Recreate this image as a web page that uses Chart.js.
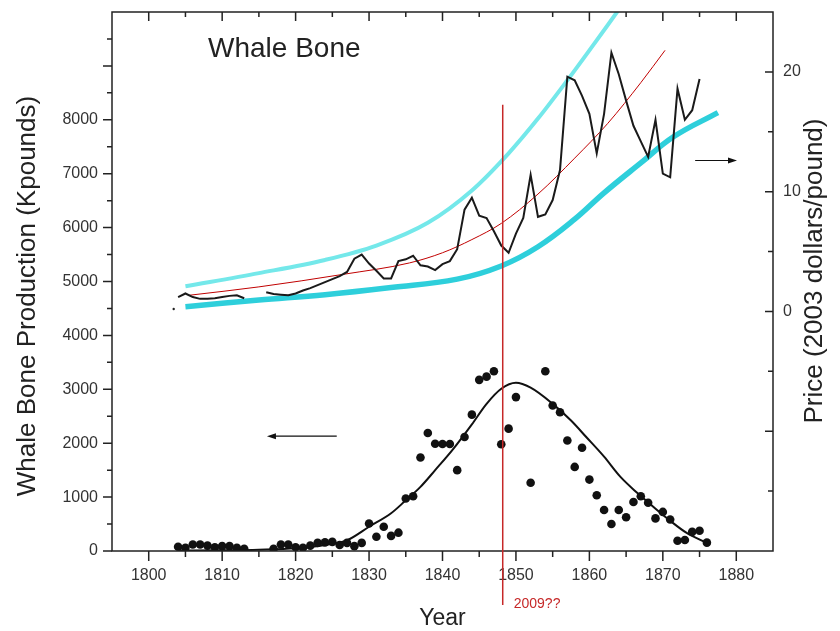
<!DOCTYPE html>
<html>
<head>
<meta charset="utf-8">
<script src="https://cdn.jsdelivr.net/npm/chart.js@4.4.1/dist/chart.umd.min.js"></script>
<style>
  html, body { margin: 0; padding: 0; background: #fff; }
</style>
</head>
<body>
<canvas id="whaleChart" width="840" height="631"></canvas>
<script>
// whale bone production (Kpounds), one dot per year
const prodYears = [1804, 1805, 1806, 1807, 1808, 1809, 1810, 1811, 1812, 1813,
  1817, 1818, 1819, 1820, 1821, 1822, 1823, 1824, 1825, 1826, 1827, 1828, 1829,
  1830, 1831, 1832, 1833, 1834, 1835, 1836, 1837, 1838, 1839, 1840, 1841, 1842,
  1843, 1844, 1845, 1846, 1847, 1848, 1849, 1850, 1852, 1854, 1855, 1856, 1857,
  1858, 1859, 1860, 1861, 1862, 1863, 1864, 1865, 1866, 1867, 1868, 1869, 1870,
  1871, 1872, 1873, 1874, 1875, 1876];
const prodValues = [80, 60, 120, 120, 100, 70, 90, 90, 60, 40,
  40, 120, 120, 70, 60, 100, 150, 160, 170, 110, 150, 90, 150,
  510, 265, 450, 280, 340, 975, 1015, 1735, 2190, 1990, 1985, 1985, 1500,
  2115, 2530, 3175, 3235, 3335, 1980, 2270, 2855, 1265, 3335, 2700, 2575, 2050,
  1560, 1915, 1325, 1035, 760, 500, 760, 625, 910, 1015, 895, 605, 725,
  585, 190, 205, 355, 375, 155];

// fitted production curve
const fitYears = [1804, 1810, 1815, 1820, 1824, 1827, 1830, 1833, 1835, 1837, 1839,
  1841.5, 1844, 1846, 1848, 1850, 1852, 1855, 1857.5, 1859.6, 1862, 1864.2,
  1866.5, 1868.7, 1871, 1873.3, 1876];
const fitValues = [10, 15, 25, 50, 110, 200, 450, 700, 940, 1190, 1500,
  1900, 2350, 2730, 3010, 3120, 3030, 2730, 2420, 2110, 1750, 1380,
  1080, 820, 560, 330, 150];

// price (2003 dollars/pound), two runs with a gap
const priceYearsA = [1804, 1805, 1806, 1807, 1808, 1809, 1810, 1811, 1812, 1813];
const priceA = [1.2, 1.5, 1.2, 1.05, 1.05, 1.1, 1.2, 1.3, 1.35, 1.1];
const priceYearsB = [1816, 1817, 1818, 1819, 1820, 1821, 1822, 1823, 1824, 1825,
  1826, 1827, 1828, 1829, 1830, 1831, 1832, 1833, 1834, 1835, 1836, 1837, 1838,
  1839, 1840, 1841, 1842, 1843, 1844, 1845, 1846, 1847, 1848, 1849, 1850, 1851,
  1852, 1853, 1854, 1855, 1856, 1857, 1858, 1859, 1860, 1861, 1862, 1863, 1864,
  1865, 1866, 1867, 1868, 1869, 1870, 1871, 1872, 1873, 1874, 1875];
const priceB = [1.6, 1.45, 1.4, 1.35, 1.5, 1.75, 1.95, 2.2, 2.45, 2.7,
  2.95, 3.3, 4.4, 4.75, 4.0, 3.4, 2.75, 2.75, 4.2, 4.35, 4.65, 3.85, 3.75,
  3.45, 3.95, 4.2, 5.2, 8.5, 9.5, 8.0, 7.8, 6.7, 5.5, 4.9, 6.5, 7.8,
  11.4, 7.9, 8.1, 9.3, 11.8, 19.6, 19.3, 18.0, 16.5, 13.2, 16.5, 21.6, 19.8,
  17.6, 15.5, 14.2, 12.9, 16.0, 11.5, 11.2, 18.6, 16.0, 16.8, 19.4];
// stray dot left of the first price run
const strayYears = [1803.4];
const strayPrice = [0.2];

// price trend band and trend
const upperYears = [1805, 1815, 1824, 1831, 1838, 1844, 1849, 1853, 1857, 1860, 1864, 1866];
const upperValues = [2.1, 3.2, 4.3, 5.5, 7.4, 10.1, 13.2, 16.1, 19.3, 21.8, 25.2, 27.0];
const lowerYears = [1805, 1815, 1824, 1833, 1842, 1848, 1853, 1858, 1862, 1867, 1871.5, 1877.5];
const lowerValues = [0.4, 0.95, 1.4, 2.0, 2.7, 3.8, 5.4, 7.7, 9.9, 12.4, 14.6, 16.6];
const trendYears = [1805.5, 1815, 1826.5, 1835.5, 1840, 1844, 1848, 1853, 1858, 1862.5, 1867, 1870.3];
const trendValues = [1.35, 2.05, 3.1, 4.05, 4.9, 6.0, 7.35, 9.8, 12.8, 15.7, 19.1, 21.8];

const yearTicks = [1800, 1810, 1820, 1830, 1840, 1850, 1860, 1870, 1880];
const prodTicks = [0, 1000, 2000, 3000, 4000, 5000, 6000, 7000, 8000];
const priceTicks = [0, 10, 20];

// marker and arrows, in data units
const markerYear = 1848.2;
const markerTopPrice = 17.25;
const leftArrow = { from: 1825.6, to: 1816.1, value: 2130 };
const rightArrow = { from: 1874.4, to: 1880.1, value: 12.6 };

const FONT = "'Liberation Sans', Arial, sans-serif";
const pts = (xs, ys) => xs.map((x, i) => ({ x: x, y: ys[i] }));

function drawArrow(ctx, x1, y, x2) {
    const dir = x2 > x1 ? 1 : -1;
    ctx.beginPath();
    ctx.moveTo(x1, y);
    ctx.lineTo(x2 - dir * 6, y);
    ctx.stroke();
    ctx.beginPath();
    ctx.moveTo(x2, y);
    ctx.lineTo(x2 - dir * 9, y - 3);
    ctx.lineTo(x2 - dir * 9, y + 3);
    ctx.closePath();
    ctx.fill();
}

// fixed axis box sizes so the plot frame lands where it does in the picture
function fixBox(size) {
    return s => {
        if (s.isHorizontal()) s.height = size; else s.width = size;
        s.paddingTop = 0;
        s.paddingBottom = 0;
    };
}

const decor = {
    id: 'decor',
    afterDraw(chart) {
        const ctx = chart.ctx;
        const a = chart.chartArea;
        const sx = chart.scales.x, sy = chart.scales.y, sp = chart.scales.y2;
        ctx.save();

        // frame
        ctx.strokeStyle = '#222';
        ctx.lineWidth = 1.5;
        ctx.strokeRect(a.left, a.top, a.right - a.left, a.bottom - a.top);

        // ticks
        ctx.beginPath();
        for (let yr = 1800; yr < 1885; yr += 5) {
            const px = sx.getPixelForValue(yr);
            const major = yr % 10 === 0;
            ctx.moveTo(px, a.bottom);
            ctx.lineTo(px, a.bottom + (major ? 10 : 6));
            ctx.moveTo(px, a.top);
            ctx.lineTo(px, a.top + (major ? 9 : 5));
        }
        for (let v = 500; v <= 9500; v += 500) {
            const py = sy.getPixelForValue(v);
            ctx.moveTo(a.left, py);
            ctx.lineTo(a.left - (v % 1000 === 0 ? 9 : 5), py);
        }
        ctx.moveTo(a.left, a.bottom);
        ctx.lineTo(a.left - 9, a.bottom);
        for (let v = -15; v <= 20; v += 5) {
            const py = sp.getPixelForValue(v);
            ctx.moveTo(a.right, py);
            ctx.lineTo(a.right - (v % 10 === 0 ? 8 : 5), py);
        }
        ctx.stroke();

        // red year marker
        const mx = sx.getPixelForValue(markerYear);
        ctx.strokeStyle = '#c62828';
        ctx.lineWidth = 1.5;
        ctx.beginPath();
        ctx.moveTo(mx, sp.getPixelForValue(markerTopPrice));
        ctx.lineTo(mx, a.bottom + 54);
        ctx.stroke();
        ctx.fillStyle = '#c62828';
        ctx.font = '14px ' + FONT;
        ctx.textAlign = 'left';
        ctx.textBaseline = 'alphabetic';
        ctx.fillText('2009??', mx + 11, a.bottom + 57);

        // arrows
        ctx.strokeStyle = '#111';
        ctx.fillStyle = '#111';
        ctx.lineWidth = 1.2;
        drawArrow(ctx, sx.getPixelForValue(leftArrow.from), sy.getPixelForValue(leftArrow.value),
            sx.getPixelForValue(leftArrow.to));
        drawArrow(ctx, sx.getPixelForValue(rightArrow.from), sp.getPixelForValue(rightArrow.value),
            sx.getPixelForValue(rightArrow.to));

        // texts
        ctx.fillStyle = '#222';
        ctx.font = '28px ' + FONT;
        ctx.textAlign = 'left';
        ctx.fillText('Whale Bone', a.left + 96, 57);

        ctx.font = '23px ' + FONT;
        ctx.textAlign = 'center';
        ctx.textBaseline = 'middle';
        ctx.fillText('Year', (a.left + a.right) / 2, 619);

        ctx.save();
        ctx.translate(28, 296);
        ctx.rotate(-Math.PI / 2);
        ctx.font = '26px ' + FONT;
        ctx.fillText('Whale Bone Production (Kpounds)', 0, 0);
        ctx.restore();

        ctx.save();
        ctx.translate(815, 271);
        ctx.rotate(-Math.PI / 2);
        ctx.font = '26px ' + FONT;
        ctx.fillText('Price (2003 dollars/pound)', 0, 0);
        ctx.restore();

        ctx.restore();
    }
};

const ctx = document.getElementById('whaleChart').getContext('2d');
window.whaleChart = new Chart(ctx, {
    type: 'scatter',
    data: {
        datasets: [{
            label: 'Production',
            data: pts(prodYears, prodValues),
            yAxisID: 'y',
            backgroundColor: '#111',
            borderColor: '#111',
            pointRadius: 4.3,
            pointBorderWidth: 0
        }, {
            label: 'Production fit',
            data: pts(fitYears, fitValues),
            yAxisID: 'y',
            showLine: true,
            borderColor: '#111',
            borderWidth: 2,
            pointRadius: 0,
            cubicInterpolationMode: 'monotone'
        }, {
            label: 'Price',
            data: pts(priceYearsA, priceA),
            yAxisID: 'y2',
            showLine: true,
            borderColor: '#1a1a1a',
            borderWidth: 2,
            pointRadius: 0
        }, {
            label: 'Price 2',
            data: pts(priceYearsB, priceB),
            yAxisID: 'y2',
            showLine: true,
            borderColor: '#1a1a1a',
            borderWidth: 2,
            pointRadius: 0
        }, {
            label: 'Stray',
            data: pts(strayYears, strayPrice),
            yAxisID: 'y2',
            backgroundColor: '#222',
            pointRadius: 1.2,
            pointBorderWidth: 0
        }, {
            label: 'Trend',
            data: pts(trendYears, trendValues),
            yAxisID: 'y2',
            showLine: true,
            borderColor: '#c00000',
            borderWidth: 1,
            pointRadius: 0,
            cubicInterpolationMode: 'monotone'
        }, {
            label: 'Upper',
            data: pts(upperYears, upperValues),
            yAxisID: 'y2',
            showLine: true,
            borderColor: '#74e8ea',
            borderWidth: 4,
            pointRadius: 0,
            cubicInterpolationMode: 'monotone'
        }, {
            label: 'Lower',
            data: pts(lowerYears, lowerValues),
            yAxisID: 'y2',
            showLine: true,
            borderColor: '#2ecfdb',
            borderWidth: 5.5,
            pointRadius: 0,
            tension: 0.4
        }]
    },
    options: {
        responsive: false,
        devicePixelRatio: 1,
        animation: false,
        layout: { padding: { top: 12, left: 0, right: 0, bottom: 0 } },
        plugins: {
            legend: { display: false },
            tooltip: { enabled: false }
        },
        scales: {
            x: {
                type: 'linear',
                min: 1795,
                max: 1885,
                afterBuildTicks: s => { s.ticks = yearTicks.map(v => ({ value: v })); },
                afterFit: fixBox(80),
                grid: { display: false, drawTicks: false },
                border: { display: false },
                ticks: {
                    padding: 15,
                    color: '#333',
                    font: { family: FONT, size: 16 },
                    callback: v => String(v)
                }
            },
            y: {
                type: 'linear',
                position: 'left',
                min: 0,
                max: 10000,
                afterBuildTicks: s => { s.ticks = prodTicks.map(v => ({ value: v })); },
                afterFit: fixBox(112),
                grid: { display: false, drawTicks: false },
                border: { display: false },
                ticks: {
                    padding: 14,
                    color: '#333',
                    font: { family: FONT, size: 16 },
                    callback: v => String(v)
                }
            },
            y2: {
                type: 'linear',
                position: 'right',
                min: -20,
                max: 25,
                afterBuildTicks: s => { s.ticks = priceTicks.map(v => ({ value: v })); },
                afterFit: fixBox(67),
                grid: { display: false, drawTicks: false },
                border: { display: false },
                ticks: {
                    padding: 10,
                    color: '#333',
                    font: { family: FONT, size: 16 },
                    callback: v => String(v)
                }
            }
        }
    },
    plugins: [decor]
});
</script>
</body>
</html>
